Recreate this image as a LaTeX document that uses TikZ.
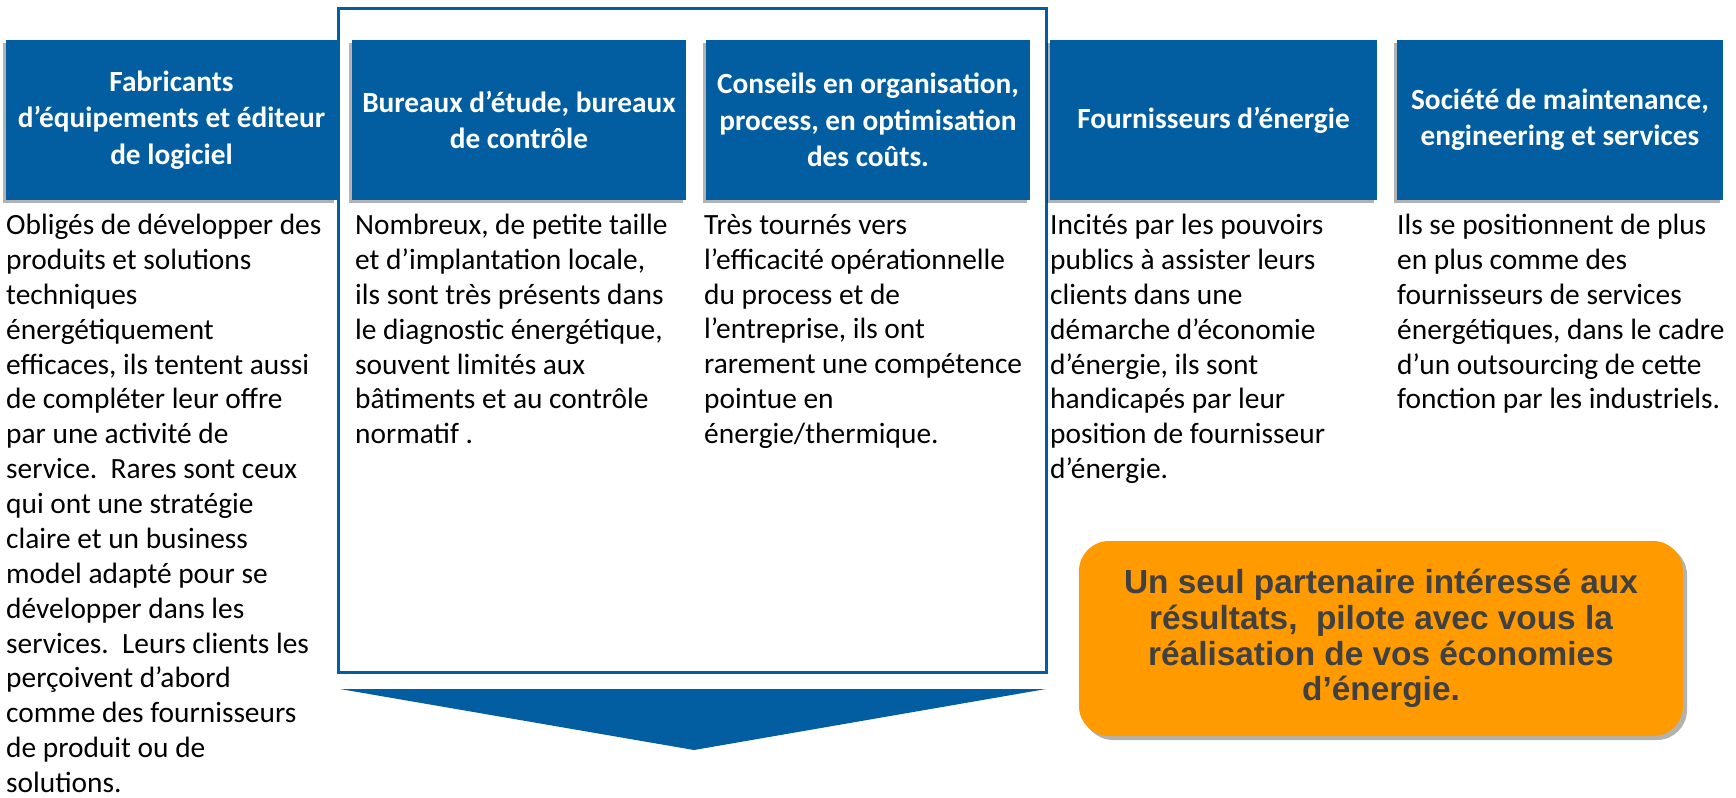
\documentclass[tikz,border=0pt]{standalone}
\usepackage{fontspec}
\setmainfont{Carlito}
\newfontfamily\arialfont{Liberation Sans}
\usetikzlibrary{shadows}
\definecolor{hdrblue}{HTML}{025EA1}
\definecolor{orng}{HTML}{FF9A00}
\definecolor{txtgrey}{HTML}{404040}
\begin{document}
\begin{tikzpicture}[x=1bp,y=-1bp,
  hdr/.style={fill=hdrblue, text=white, font=\bfseries\fontsize{29.4}{36.5}\selectfont,
    align=center, inner sep=0pt, minimum height=160bp, minimum width=#1,
    drop shadow={shadow xshift=-3bp, shadow yshift=-3bp, opacity=0.3, fill=black}},
  body/.style={anchor=north west, inner sep=0pt, align=left, text=black,
    font=\fontsize{29.5}{35}\selectfont},
  frame/.style={draw=hdrblue, line width=3bp},
  callout/.style={fill=orng, rounded corners=30bp, inner sep=0pt,
    minimum width=604bp, minimum height=195bp, align=center, text=txtgrey,
    font=\arialfont\bfseries\fontsize{33.5}{35.8}\selectfont,
    drop shadow={shadow xshift=4bp, shadow yshift=-4bp, opacity=0.3, fill=black}}
]
\useasboundingbox (0,0) rectangle (1736,798);
\fill[white] (0,0) rectangle (1736,798);

\draw[frame] (338,9) rectangle (1046,672);

\node[hdr=331bp] (h1) at (171.5,120) {Fabricants\\d’équipements et éditeur\\de logiciel};
\node[hdr=334bp] (h2) at (519,120) {Bureaux d’étude, bureaux\\de contrôle};
\node[hdr=324bp] (h3) at (868,120) {Conseils en organisation,\\process, en optimisation\\des coûts.};
\node[hdr=327bp] (h4) at (1213.5,120) {Fournisseurs d’énergie};
\node[hdr=326bp] (h5) at (1560,120) {Société de maintenance,\\engineering et services};

\node[body] (t1) at (6,214) {Obligés de développer des\\produits et solutions\\techniques\\énergétiquement\\efficaces, ils tentent aussi\\de compléter leur offre\\par une activité de\\service.~~Rares sont ceux\\qui ont une stratégie\\claire et un business\\model adapté pour se\\développer dans les\\services.~~Leurs clients les\\perçoivent d’abord\\comme des fournisseurs\\de produit ou de\\solutions.};
\node[body] (t2) at (355,214) {Nombreux, de petite taille\\et d’implantation locale,\\ils sont très présents dans\\le diagnostic énergétique,\\souvent limités aux\\bâtiments et au contrôle\\normatif .};
\node[body] (t3) at (704,214) {Très tournés vers\\l’efficacité opérationnelle\\du process et de\\l’entreprise, ils ont\\rarement une compétence\\pointue en\\énergie/thermique.};
\node[body] (t4) at (1050,214) {Incités par les pouvoirs\\publics à assister leurs\\clients dans une\\démarche d’économie\\d’énergie, ils sont\\handicapés par leur\\position de fournisseur\\d’énergie.};
\node[body] (t5) at (1397,214) {Ils se positionnent de plus\\en plus comme des\\fournisseurs de services\\énergétiques, dans le cadre\\d’un outsourcing de cette\\fonction par les industriels.};

\coordinate (al) at (340,689);
\coordinate (ar) at (1046,689);
\coordinate (at) at (694,750);
\fill[hdrblue] (al) -- (ar) -- (at) -- cycle;

\node[callout] (c) at (1381,638.5) {Un seul partenaire intéressé aux\\résultats,~~pilote avec vous la\\réalisation de vos économies\\d’énergie.};
\end{tikzpicture}
\end{document}
